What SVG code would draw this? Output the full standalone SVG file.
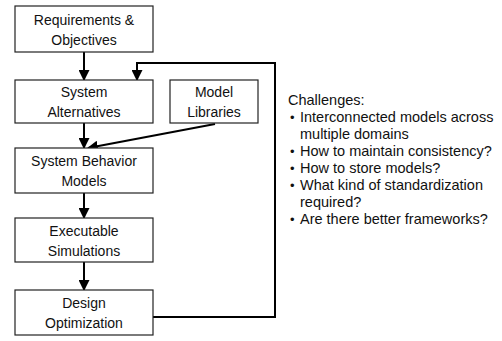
<svg xmlns="http://www.w3.org/2000/svg" width="502" height="341" viewBox="0 0 502 341">
  <style>
    .box { fill: #ffffff; stroke: #222222; stroke-width: 1.2; }
    .lbl { font-family: "Liberation Sans", Arial, sans-serif; font-size: 14px; fill: #111111; text-anchor: middle; }
    .note { font-family: "Liberation Sans", Arial, sans-serif; font-size: 14.5px; fill: #111111; }
    .dot { font-family: "Liberation Sans", Arial, sans-serif; font-size: 13px; fill: #111111; }
    .wire { fill: none; stroke: #000000; stroke-width: 2; }
  </style>
  <defs>
    <marker id="arrow" viewBox="0 0 10 10" refX="9" refY="5" markerWidth="5.5" markerHeight="5.5" orient="auto" markerUnits="strokeWidth">
      <path d="M0,0 L10,5 L0,10 Z" fill="#000000"/>
    </marker>
  </defs>
  <rect width="502" height="341" fill="#ffffff"/>

  <g id="connectors">
    <line class="wire" x1="84" y1="52" x2="84" y2="80" marker-end="url(#arrow)"/>
    <line class="wire" x1="84" y1="123" x2="84" y2="148" marker-end="url(#arrow)"/>
    <line class="wire" x1="215" y1="124" x2="88" y2="148" marker-end="url(#arrow)"/>
    <line class="wire" x1="84" y1="193" x2="84" y2="218" marker-end="url(#arrow)"/>
    <line class="wire" x1="84" y1="262" x2="84" y2="290" marker-end="url(#arrow)"/>
    <polyline class="wire" points="153,317 275,317 275,63 137,63 137,80" marker-end="url(#arrow)"/>
  </g>

  <g id="requirements">
    <rect class="box" x="15" y="6" width="138" height="46"/>
    <text class="lbl" x="84" y="25">Requirements &amp;</text>
    <text class="lbl" x="84" y="45">Objectives</text>
  </g>
  <g id="alternatives">
    <rect class="box" x="15" y="80" width="138" height="43"/>
    <text class="lbl" x="84" y="97">System</text>
    <text class="lbl" x="84" y="117">Alternatives</text>
  </g>
  <g id="libraries">
    <rect class="box" x="170" y="80" width="88" height="43"/>
    <text class="lbl" x="214" y="97">Model</text>
    <text class="lbl" x="214" y="117">Libraries</text>
  </g>
  <g id="behavior">
    <rect class="box" x="15" y="148" width="138" height="45"/>
    <text class="lbl" x="84" y="166">System Behavior</text>
    <text class="lbl" x="84" y="186">Models</text>
  </g>
  <g id="simulations">
    <rect class="box" x="15" y="218" width="138" height="44"/>
    <text class="lbl" x="84" y="236">Executable</text>
    <text class="lbl" x="84" y="256">Simulations</text>
  </g>
  <g id="optimization">
    <rect class="box" x="15" y="290" width="138" height="45"/>
    <text class="lbl" x="84" y="308">Design</text>
    <text class="lbl" x="84" y="328">Optimization</text>
  </g>

  <g id="challenges">
    <text class="note" x="288" y="105">Challenges:</text>
    <text class="dot" x="290" y="122">•</text>
    <text class="note" x="300" y="122">Interconnected models across</text>
    <text class="note" x="300" y="139">multiple domains</text>
    <text class="dot" x="290" y="156">•</text>
    <text class="note" x="300" y="156">How to maintain consistency?</text>
    <text class="dot" x="290" y="173">•</text>
    <text class="note" x="300" y="173">How to store models?</text>
    <text class="dot" x="290" y="190">•</text>
    <text class="note" x="300" y="190">What kind of standardization</text>
    <text class="note" x="300" y="207">required?</text>
    <text class="dot" x="290" y="224">•</text>
    <text class="note" x="300" y="224">Are there better frameworks?</text>
  </g>
</svg>
